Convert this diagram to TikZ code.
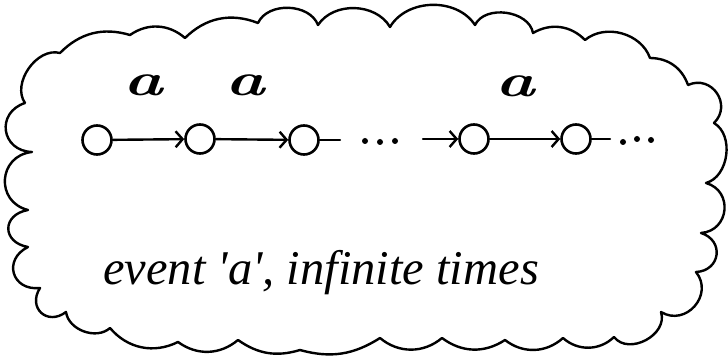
\documentclass[tikz,border=0pt]{standalone}
\usepackage{fontspec}
\newfontfamily\capfont{Liberation Serif}
\usetikzlibrary{arrows.meta}
\begin{document}
\begin{tikzpicture}[x=1pt,y=1pt,
  ink/.style={line width=2.4pt, line cap=round, line join=round},
  state/.style={circle, draw, line width=2.6pt, minimum size=29pt, inner sep=0pt},
  trans/.style={ink, -{Straight Barb[length=7pt,width=16pt,line width=2.4pt]}},
  lbl/.style={font=\fontsize{46}{46}\selectfont\bfseries\itshape, inner sep=0pt},
  dotmark/.style={circle, fill, inner sep=0pt, minimum size=6pt},
  deep/.style={bend left=80, looseness=#1}]
\useasboundingbox (0,0) rectangle (728,356);
% cloud outline
\draw[ink] (25,253)
  to[bend left=70] (60,303)
  to[bend left=31] (130,321)
  to[bend left=38] (185,318)
  to[bend left=33] (258,333)
  to[bend left=67] (318,331)
  to[bend left=58] (390,329)
  to[bend left=58] (475,331)
  to[bend left=72] (533,323)
  to[bend left=38] (585,316)
  to[bend left=55] (650,298)
  to[bend left=35] (688,271)
  to[deep=1.45] (714,233)
  to[bend left=67] (706,173)
  to[deep=1.45] (701,123)
  to[deep=1.6] (696,84)
  to[deep=1.4] (661,44)
  to[deep=1.15] (614,19)
  to[bend left=43] (563,18)
  to[bend left=40] (505,16)
  to[bend left=35] (442,18)
  to[bend left=40] (380,18)
  to[bend left=24] (300,6)
  to[bend left=26] (238,16)
  to[bend left=38] (178,14)
  to[bend left=38] (110,28)
  to[bend left=62] (66,44)
  to[deep=1.7] (40,68)
  to[deep=1.7] (28,109)
  to[deep=1.85] (28,146)
  to[deep=1.5] (32,204)
  to[deep=1.6] (25,253);
% states
\node[state] (s1) at (97,216) {};
\node[state] (s2) at (200,217) {};
\node[state] (s3) at (304,216) {};
\node[state] (s4) at (474,217) {};
\node[state] (s5) at (576,217) {};
% transitions
\draw[trans] (s1) -- (s2);
\draw[trans] (s2) -- (s3);
\coordinate (e3) at (340,216);
\draw[ink] (s3) -- (e3);
\node[dotmark] (d1) at (365,215) {};
\node[dotmark] (d2) at (380,214) {};
\node[dotmark] (d3) at (395,215) {};
\coordinate (b4) at (423,217);
\draw[trans] (b4) -- (s4);
\draw[trans] (s4) -- (s5);
\coordinate (e5) at (610,217);
\draw[ink] (s5) -- (e5);
\node[dotmark] (d4) at (623,214) {};
\node[dotmark] (d5) at (637,217) {};
\node[dotmark] (d6) at (651,216) {};
% labels
\node[lbl] (a1) at (143,271) {\scalebox{1.45}[1]{a}};
\node[lbl] (a2) at (245,271) {\scalebox{1.45}[1]{a}};
\node[lbl] (a3) at (515,270) {\scalebox{1.45}[1]{a}};
% caption
\node[anchor=base west, inner sep=0pt, font=\capfont\itshape\fontsize{48.5}{52}\selectfont] (cap) at (103,71) {event \textquotesingle a\textquotesingle, infinite times};
\end{tikzpicture}
\end{document}
